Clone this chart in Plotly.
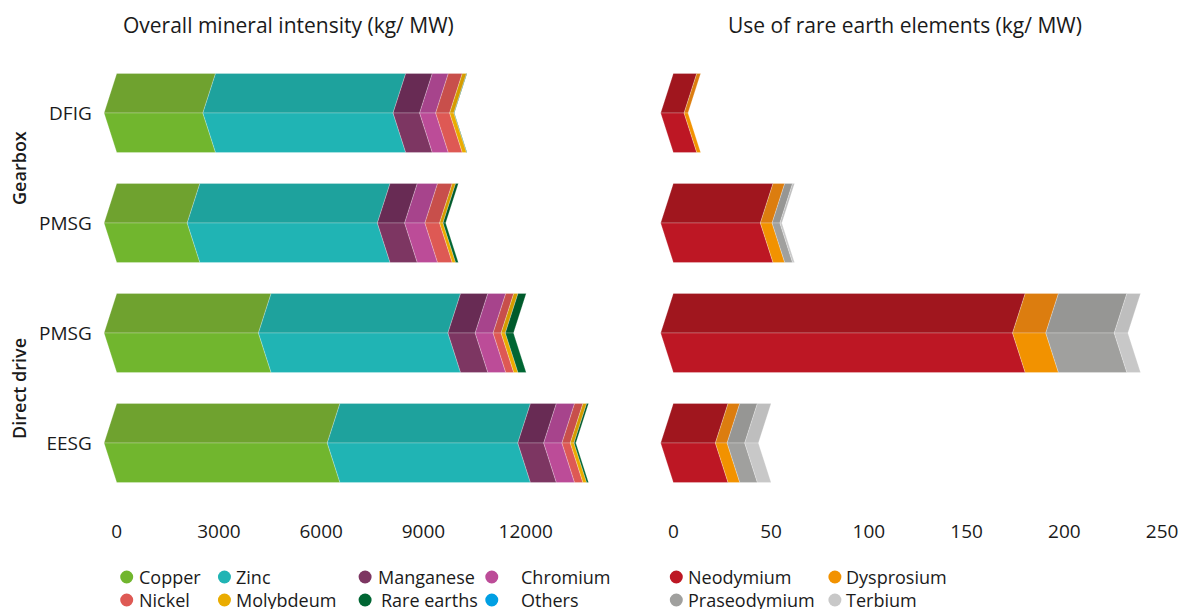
import plotly.graph_objects as go

W, H = 1187, 609

# ---------------- data ----------------
categories = ["DFIG", "PMSG", "PMSG", "EESG"]
groups = ["Gearbox", "Direct drive"]

minerals = ["Copper", "Zinc", "Manganese", "Chromium", "Nickel", "Molybdeum", "Rare earths", "Others"]
copper = [2900, 2440, 4530, 6550]
zinc = [5580, 5580, 5560, 5590]
manganese = [780, 800, 800, 760]
chromium = [470, 595, 525, 535]
nickel = [410, 430, 235, 245]
molybdenum = [125, 100, 125, 110]
rare_earths = [14, 80, 240, 55]
others = [0, 0, 0, 0]

ree_names = ["Neodymium", "Dysprosium", "Praseodymium", "Terbium"]
neodymium = [12, 51, 180, 28]
dysprosium = [2, 6, 17, 6]
praseodymium = [0, 4, 35, 9]
terbium = [0, 1, 7, 7]

left_ticks = [0, 3000, 6000, 9000, 12000]
right_ticks = [0, 50, 100, 150, 200, 250]

left_title = "Overall mineral intensity (kg/ MW)"
right_title = "Use of rare earth elements (kg/ MW)"

# ---------------- styles ----------------
left_colors = [("#6fa22f", "#71b62e"), ("#1ea29d", "#20b4b4"), ("#682b54", "#7d3662"),
               ("#a7448c", "#bc4c98"), ("#c84f4b", "#de5954"), ("#d49c00", "#eaac00"),
               ("#005a2b", "#006633"), ("#0088c8", "#009fe3")]
right_colors = [("#a0161e", "#bd1724"), ("#dc7d0f", "#f29200"),
                ("#969694", "#a0a09e"), ("#bebebe", "#c8c8c8")]
legend_left_colors = ["#71b62e", "#20b4b4", "#7d3662", "#bc4c98",
                      "#de5954", "#eaac00", "#006633", "#009fe3"]
legend_right_colors = ["#bd1724", "#f29200", "#a0a09e", "#c8c8c8"]

FONT = "Open Sans"
TXT = "#1a1a1a"

# pixel geometry (page pixels; the page body adds an 8px offset)
OFF = 8
L0, LS = 117, 410 / 12000      # left axis zero px, px per unit
R0, RS = 675, 490 / 250        # right axis zero px, px per unit
ROW_PX, ROW0 = 110, 443        # y=0 row centre px
HALF_PX = 39.5
DEPTH_PX = 12.7
Y_TOP_PX, Y_BOT_PX = 60, 500
LX0, LX1 = 95, 610
RX0, RX1 = 650, 1178

yc = [3, 2, 1, 0]
half = HALF_PX / ROW_PX
yrange = [(ROW0 - Y_BOT_PX) / ROW_PX, (ROW0 - Y_TOP_PX) / ROW_PX]


def px(v):
    return (v - OFF) / W


def py(v):
    return 1 - (v - OFF) / H


ydom = [py(Y_BOT_PX), py(Y_TOP_PX)]

fig = go.Figure()


def add_stack(series, names, colors, xa, ya, depth):
    cum = [0.0] * len(yc)
    for vals, name, (ctop, cbot) in zip(series, names, colors):
        tx, ty, bx, by = [], [], [], []
        for i, v in enumerate(vals):
            a = cum[i]
            b = a + v
            cum[i] = b
            if v <= 0:
                continue
            c = yc[i]
            tx += [a, b, b - depth, a - depth, a, None]
            ty += [c + half, c + half, c, c, c + half, None]
            bx += [a - depth, b - depth, b, a, a - depth, None]
            by += [c, c, c - half, c - half, c, None]
        for xs, ys, col in ((tx, ty, ctop), (bx, by, cbot)):
            if not xs:
                continue
            fig.add_trace(go.Scatter(
                x=xs, y=ys, mode="lines", fill="toself", fillcolor=col,
                line=dict(color="rgba(255,255,255,0.3)", width=0.8),
                xaxis=xa, yaxis=ya, name=name, showlegend=False, hoverinfo="skip"))


add_stack([copper, zinc, manganese, chromium, nickel, molybdenum, rare_earths, others],
          minerals, left_colors, "x", "y", DEPTH_PX / LS)
add_stack([neodymium, dysprosium, praseodymium, terbium],
          ree_names, right_colors, "x2", "y2", DEPTH_PX / RS)

axis_common = dict(showgrid=False, zeroline=False, showline=False, ticks="",
                   tickfont=dict(family=FONT, size=19, color=TXT), fixedrange=True,
                   ticklabeloverflow="allow")

fig.update_layout(
    width=W, height=H,
    margin=dict(l=0, r=0, t=0, b=0),
    paper_bgcolor="white", plot_bgcolor="white",
    showlegend=False,
    xaxis=dict(domain=[px(LX0), px(LX1)], range=[(LX0 - L0) / LS, (LX1 - L0) / LS],
               tickvals=left_ticks, ticktext=[str(t) for t in left_ticks],
               anchor="y", ticklabelstandoff=18, **axis_common),
    yaxis=dict(domain=ydom, range=yrange, tickvals=yc, ticktext=categories,
               anchor="x", ticklabelstandoff=2, **axis_common),
    xaxis2=dict(domain=[px(RX0), px(RX1)], range=[(RX0 - R0) / RS, (RX1 - R0) / RS],
                tickvals=right_ticks, ticktext=[str(t) for t in right_ticks],
                anchor="y2", ticklabelstandoff=18, **axis_common),
    yaxis2=dict(domain=ydom, range=yrange, showticklabels=False, anchor="x2",
                **axis_common),
)

ann = []
ann.append(dict(text=left_title, x=px(289), y=py(25), xref="paper", yref="paper",
                showarrow=False, xanchor="center", yanchor="middle",
                font=dict(family=FONT, size=21, color=TXT)))
ann.append(dict(text=right_title, x=px(907), y=py(25), xref="paper", yref="paper",
                showarrow=False, xanchor="center", yanchor="middle",
                font=dict(family=FONT, size=21, color=TXT)))
for g, ymid in zip(groups, [168, 388]):
    ann.append(dict(text=g, x=px(19), y=py(ymid), xref="paper", yref="paper",
                    showarrow=False, textangle=-90, xanchor="center", yanchor="middle",
                    font=dict(family=FONT, size=18, color=TXT, weight=600)))

shapes = []


def legend_entry(label, color, mx, tx, ly):
    shapes.append(dict(type="circle", xref="paper", yref="paper",
                       xsizemode="pixel", ysizemode="pixel",
                       xanchor=px(mx), yanchor=py(ly), x0=-6.5, x1=6.5, y0=-6.5, y1=6.5,
                       fillcolor=color, line=dict(width=0)))
    ann.append(dict(text=label, x=px(tx), y=py(ly), xref="paper", yref="paper",
                    showarrow=False, xanchor="left", yanchor="middle",
                    font=dict(family=FONT, size=18, color=TXT)))


left_mx = [127, 225, 366, 493]
left_tx = [137, 235, 377, 520]
rows_y = [577, 600]
for k, name in enumerate(minerals):
    r, c = divmod(k, 4)
    legend_entry(name, legend_left_colors[k], left_mx[c], left_tx[c] + (3 if k == 6 else 0), rows_y[r])

right_mx = [678, 837]
right_tx = [688, 846]
for k, name in enumerate(ree_names):
    r, c = divmod(k, 2)
    legend_entry(name, legend_right_colors[k], right_mx[c], right_tx[c], rows_y[r])

fig.update_layout(annotations=ann, shapes=shapes)

fig.write_html("out.html")
